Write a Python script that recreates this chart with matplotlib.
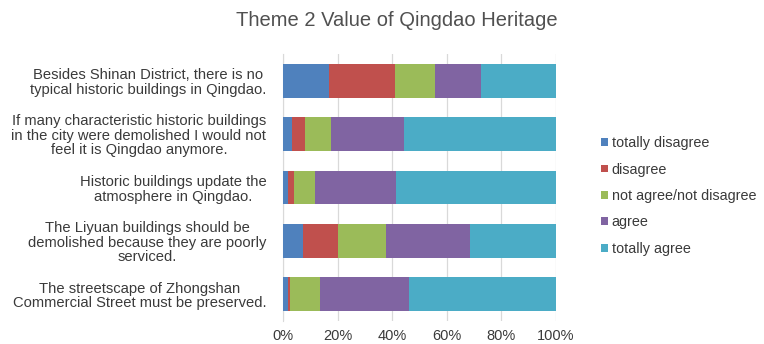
import matplotlib
matplotlib.use("Agg")
import matplotlib.pyplot as plt
import numpy as np

plt.rcParams['font.family'] = ['Liberation Sans', 'DejaVu Sans']

statements = [
    "Besides Shinan District, there is no\ntypical historic buildings in Qingdao.",
    "If many characteristic historic buildings\nin the city were demolished I would not\nfeel it is Qingdao anymore.",
    "Historic buildings update the\natmosphere in Qingdao.",
    "The Liyuan buildings should be\ndemolished because they are poorly\nserviced.",
    "The streetscape of Zhongshan\nCommercial Street must be preserved.",
]
responses = ["totally disagree", "disagree", "not agree/not disagree", "agree", "totally agree"]

# shares (%) per statement, one list per response level
totally_disagree = [16.7, 3.3, 1.9, 7.4, 1.8]
disagree = [24.4, 4.9, 2.0, 12.6, 0.9]
neutral = [14.5, 9.4, 7.7, 17.8, 10.9]
agree = [16.8, 26.8, 29.9, 30.8, 32.6]
totally_agree = [27.6, 55.6, 58.5, 31.4, 53.8]

colors = ["#4F81BD", "#C0504D", "#9BBB59", "#8064A2", "#4BACC6"]
series = [totally_disagree, disagree, neutral, agree, totally_agree]

fig = plt.figure(figsize=(7.64, 3.44), dpi=100)
ax = fig.add_axes([283 / 764, 1 - 321 / 344, 273 / 764, (321 - 54) / 344])

y = np.arange(len(statements))
left = np.zeros(len(statements))
for vals, col, name in zip(series, colors, responses):
    ax.barh(y, vals, left=left, height=0.63, color=col, label=name, zorder=3)
    left += np.array(vals)

ax.set_ylim(len(statements) - 0.5, -0.5)
ax.set_xlim(0, 100)
ax.set_xticks(np.arange(0, 101, 20))
ax.set_xticklabels([f"{v}%" for v in range(0, 101, 20)])
ax.set_yticks(y)
ax.set_yticklabels(statements)
for lbl in ax.get_yticklabels():
    lbl.set_multialignment('center')
    lbl.set_linespacing(1.05)
ax.tick_params(axis='y', length=0, pad=12, labelsize=10.6, labelcolor="#3A3A3A")
ax.tick_params(axis='x', length=0, pad=6, labelsize=10.5, labelcolor="#3A3A3A")
ax.grid(axis='x', color="#D9D9D9", linewidth=0.9, zorder=0)
for s in ["top", "right", "bottom"]:
    ax.spines[s].set_visible(False)
ax.spines["left"].set_color("#D9D9D9")

fig.text(397 / 764, 1 - 20 / 344, "Theme 2 Value of Qingdao Heritage",
         ha="center", va="center", fontsize=14.5, color="#505050")

handles, labels = ax.get_legend_handles_labels()
fig.legend(handles, labels, loc="center left", bbox_to_anchor=(601 / 764, 1 - 196 / 344),
           frameon=False, fontsize=10.4, labelcolor="#3A3A3A", handlelength=0.45,
           handleheight=0.45, handletextpad=0.3, labelspacing=0.86,
           borderpad=0, borderaxespad=0)

fig.savefig("out.png", dpi=100, facecolor="white")
